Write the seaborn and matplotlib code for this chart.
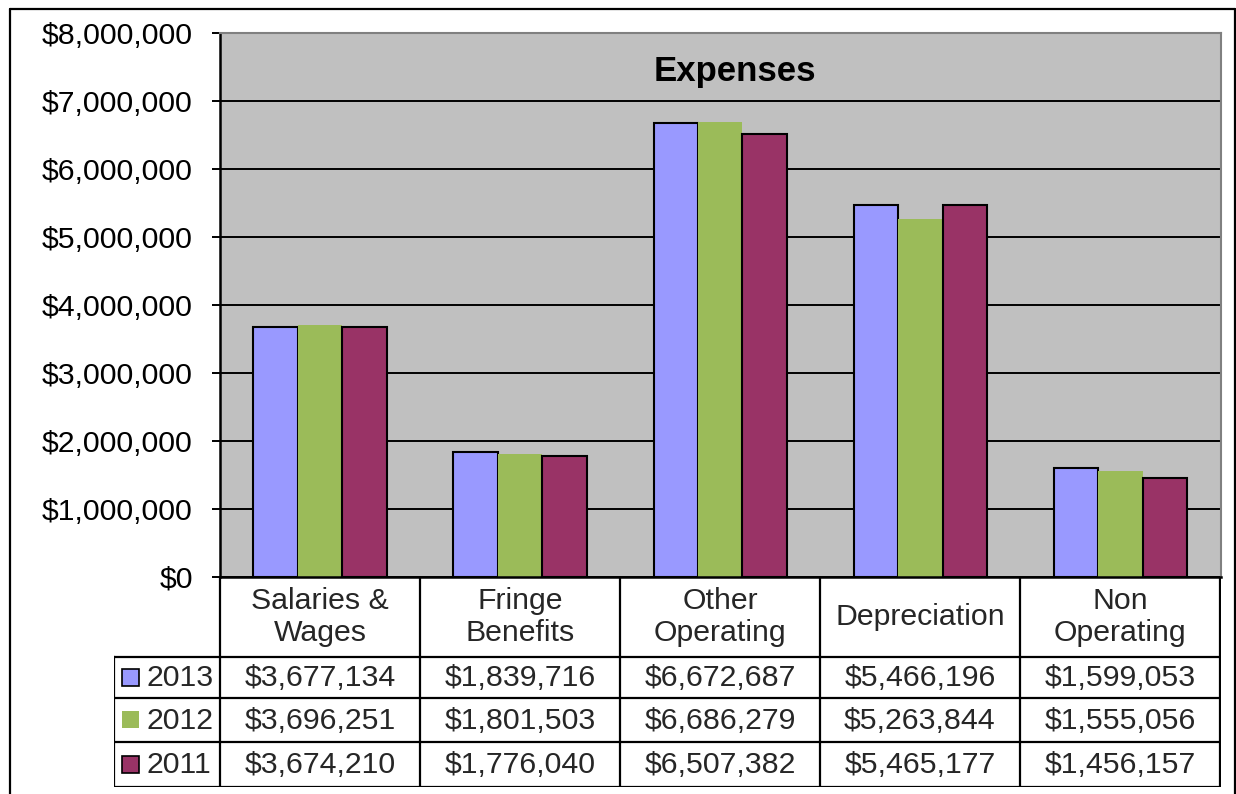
import numpy as np
import pandas as pd
import matplotlib
matplotlib.use("Agg")
import matplotlib.pyplot as plt
import matplotlib.colors as mcolors
from matplotlib.patches import Rectangle
from matplotlib.lines import Line2D
import seaborn as sns

# ---- data ----
categories = ["Salaries &\nWages", "Fringe\nBenefits", "Other\nOperating",
              "Depreciation", "Non\nOperating"]
years = ["2013", "2012", "2011"]
exp_2013 = [3677134, 1839716, 6672687, 5466196, 1599053]
exp_2012 = [3696251, 1801503, 6686279, 5263844, 1555056]
exp_2011 = [3674210, 1776040, 6507382, 5465177, 1456157]
y_ticks = [0, 1000000, 2000000, 3000000, 4000000, 5000000, 6000000, 7000000, 8000000]

series = {"2013": exp_2013, "2012": exp_2012, "2011": exp_2011}
colors = {"2013": "#9999FF", "2012": "#9BBB59", "2011": "#993366"}
outlined = {"2013": True, "2012": False, "2011": True}

df = pd.DataFrame([
    {"Category": c, "Year": yr, "Amount": v}
    for yr in years for c, v in zip(categories, series[yr])
])

sns.set_theme(style="white")
plt.rcParams["font.family"] = ["Liberation Sans", "DejaVu Sans"]

W, H = 1236, 794
fig = plt.figure(figsize=(W / 100, H / 100), dpi=100)
fig.patch.set_facecolor("white")


def box(l, t, r, b):
    return [l / W, 1 - b / H, (r - l) / W, (b - t) / H]


FS = 21.8

# ---- bar chart ----
ax = fig.add_axes(box(220, 32.5, 1220.5, 577))
sns.barplot(data=df, x="Category", y="Amount", hue="Year",
            order=categories, hue_order=years, palette=colors,
            width=2 / 3, saturation=1, errorbar=None, legend=False,
            edgecolor="black", linewidth=1.5, ax=ax)

green = mcolors.to_rgba(colors["2012"])
for p in ax.patches:
    if np.allclose(p.get_facecolor(), green, atol=0.01):
        p.set_edgecolor("none")

ax.set_facecolor("#C0C0C0")
ax.set_xlim(-0.5, len(categories) - 0.5)
ax.set_ylim(y_ticks[0], y_ticks[-1])
ax.set_yticks(y_ticks)
ax.set_yticklabels([f"${v:,.0f}" for v in y_ticks])
ax.set_xticks([])
ax.set_xlabel("")
ax.set_ylabel("")
ax.yaxis.grid(True, color="black", linewidth=1.4)
ax.set_axisbelow(True)
ax.tick_params(axis="y", left=True, length=6, width=1.4, color="black",
               direction="out", labelsize=FS, pad=13.5, labelcolor="black")
for side in ("left", "bottom"):
    ax.spines[side].set_color("black")
    ax.spines[side].set_linewidth(1.8)
for side in ("top", "right"):
    ax.spines[side].set_color("#808080")
    ax.spines[side].set_linewidth(1.5)

ax.text(0.515, 0.928, "Expenses", transform=ax.transAxes, ha="center",
        va="center", fontsize=25, fontweight="bold", color="black")

# ---- data table below the chart ----
tab = fig.add_axes(box(114, 577, 1221, 787))
x_left = -0.5 - (220 - 114) / 200
x_right = len(categories) - 0.5
tab.set_xlim(x_left, x_right + 0.005)
tab.set_ylim(787, 577)
tab.axis("off")

row_edges = [577, 657, 698, 742, 787]
col_edges = np.arange(len(categories) + 1) - 0.5
lk = dict(color="black", linewidth=1.6, solid_capstyle="projecting")

for xe in col_edges:
    tab.plot([xe, xe], [row_edges[0], row_edges[-1]], **lk)
tab.plot([x_left, x_left], [row_edges[1], row_edges[-1]], **lk)
for ye in row_edges[1:]:
    tab.plot([x_left, x_right], [ye, ye], **lk)

hdr_y = (row_edges[0] + row_edges[1]) / 2
for i, c in enumerate(categories):
    tab.text(i, hdr_y, c, ha="center", va="center", multialignment="center",
             fontsize=FS, linespacing=1.2)

key_w = 17 / 200
for r, yr in enumerate(years):
    yc = (row_edges[r + 1] + row_edges[r + 2]) / 2
    tab.add_patch(Rectangle((x_left + 8 / 200, yc - 8.5), key_w, 17,
                            facecolor=colors[yr],
                            edgecolor="black" if outlined[yr] else "none",
                            linewidth=1.2))
    tab.text(x_left + 32 / 200, yc + 1, yr, ha="left", va="center", fontsize=FS)
    for i, v in enumerate(series[yr]):
        tab.text(i, yc + 1, f"${v:,.0f}", ha="center", va="center", fontsize=FS)

# ---- outer frame ----
fk = dict(color="black", linewidth=1.6, transform=fig.transFigure)
fig.add_artist(Line2D([9.5 / W, 9.5 / W], [0, 1 - 8.5 / H], **fk))
fig.add_artist(Line2D([9.5 / W, 1234.5 / W], [1 - 8.5 / H, 1 - 8.5 / H], **fk))
fig.add_artist(Line2D([1234.5 / W, 1234.5 / W], [0, 1 - 8.5 / H], **fk))

fig.savefig("out.png", dpi=100)
